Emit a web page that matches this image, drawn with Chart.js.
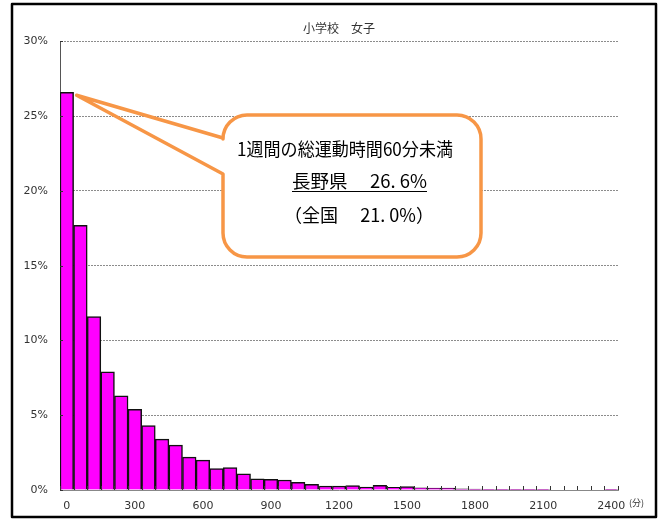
<!DOCTYPE html>
<html>
<head>
<meta charset="utf-8">
<script src="https://cdn.jsdelivr.net/npm/chart.js@4/dist/chart.umd.min.js"></script>
<style>
  html, body { margin: 0; padding: 0; background: #fff; }
  #chart { display: block; }
</style>
</head>
<body>
<canvas id="chart" width="664" height="521"></canvas>
<script>
"use strict";

// ? DATA
// ! ========================== ! \\
const chartTitle = "小学校　女子";
const categories = [
  "0", "60", "120", "180", "240", "300", "360", "420", "480", "540",
  "600", "660", "720", "780", "840", "900", "960", "1020", "1080", "1140",
  "1200", "1260", "1320", "1380", "1440", "1500", "1560", "1620", "1680", "1740",
  "1800", "1860", "1920", "1980", "2040", "2100", "2160", "2220", "2280", "2340",
  "2400",
];
// percent of pupils in each 60-minute band
const shares = [
  26.6, 17.7, 11.6, 7.9, 6.3, 5.4, 4.3, 3.4, 3.0, 2.2,
  2.0, 1.43, 1.5, 1.08, 0.74, 0.71, 0.67, 0.52, 0.38, 0.27,
  0.27, 0.29, 0.2, 0.31, 0.18, 0.23, 0.14, 0.13, 0.13, 0.07,
  0.06, 0.05, 0.05, 0.04, 0.04, 0.04, 0, 0, 0, 0,
  0.05,
];
const shownTicks = ["0", "300", "600", "900", "1200", "1500", "1800", "2100", "2400"];
const yTicks = [0, 5, 10, 15, 20, 25, 30];
const calloutLines = ["1週間の総運動時間60分未満", "長野県　 26. 6%", "（全国　 21. 0%）"];
const unitLabel = "(分)";

const tickFont = { family: "'DejaVu Sans', sans-serif", size: 11 };
const cjkFont = "'Noto Sans CJK JP', sans-serif";

// ? HELPERS
// ! ========================== ! \\
function fitText(ctx, text, left, right, y) {
  const w = ctx.measureText(text).width;
  const sx = (right - left) / w;
  ctx.save();
  ctx.translate(left, y);
  ctx.scale(sx, 1);
  ctx.fillText(text, 0, 0);
  ctx.restore();
}

// ? EXTRAS (frame, tick marks, callout)
// ! ========================== ! \\
const extras = {
  id: "extras",
  beforeDraw: (chart) => {
    const { ctx, width, height } = chart;
    ctx.save();
    ctx.fillStyle = "#ffffff";
    ctx.fillRect(0, 0, width, height);
    ctx.restore();
  },
  afterDraw: (chart) => {
    const { ctx, chartArea } = chart;
    const xs = chart.scales.x;
    const ys = chart.scales.y;
    ctx.save();

    // x tick marks between bars (pointing up)
    ctx.strokeStyle = "#333";
    ctx.lineWidth = 1;
    const half = (xs.getPixelForValue(1) - xs.getPixelForValue(0)) / 2;
    ctx.beginPath();
    for (let i = 0; i <= categories.length; i++) {
      const x = Math.round(xs.getPixelForValue(i) - half) + 0.5;
      ctx.moveTo(x, chartArea.bottom);
      ctx.lineTo(x, chartArea.bottom - 4);
    }
    // y tick marks (pointing right)
    yTicks.forEach((v) => {
      const y = Math.round(ys.getPixelForValue(v)) + 0.5;
      ctx.moveTo(chartArea.left, y);
      ctx.lineTo(chartArea.left + 3, y);
    });
    ctx.stroke();

    // unit label
    ctx.fillStyle = "#333";
    ctx.font = `9px ${cjkFont}`;
    ctx.textBaseline = "middle";
    ctx.textAlign = "left";
    ctx.fillText(unitLabel, 629, 503);

    // callout
    const bar = chart.getDatasetMeta(0).data[0];
    const tipX = bar.x + bar.width / 2 + 3;
    const tipY = bar.y + 3;
    const bx = 223, by = 115, bw = 258, bh = 142, r = 24;
    const baseTop = 138, baseBottom = 174;

    ctx.fillStyle = "#ffffff";
    ctx.beginPath();
    ctx.roundRect(bx, by, bw, bh, r);
    ctx.fill();

    ctx.strokeStyle = "#F79646";
    ctx.lineWidth = 3.5;
    ctx.lineJoin = "round";
    ctx.beginPath();
    ctx.moveTo(bx, baseBottom);
    ctx.lineTo(bx, by + bh - r);
    ctx.arcTo(bx, by + bh, bx + r, by + bh, r);
    ctx.lineTo(bx + bw - r, by + bh);
    ctx.arcTo(bx + bw, by + bh, bx + bw, by + bh - r, r);
    ctx.lineTo(bx + bw, by + r);
    ctx.arcTo(bx + bw, by, bx + bw - r, by, r);
    ctx.lineTo(bx + r, by);
    ctx.arcTo(bx, by, bx, by + r, r);
    ctx.lineTo(bx, baseTop);
    ctx.lineTo(tipX, tipY);
    ctx.closePath();
    ctx.stroke();

    ctx.fillStyle = "#000";
    ctx.textBaseline = "middle";
    ctx.textAlign = "left";
    ctx.font = `18px ${cjkFont}`;
    fitText(ctx, calloutLines[0], 237, 453, 149);
    fitText(ctx, calloutLines[1], 292, 427, 181);
    fitText(ctx, calloutLines[2], 284, 434, 215);
    ctx.strokeStyle = "#000";
    ctx.lineWidth = 1;
    ctx.beginPath();
    ctx.moveTo(292, 191.5);
    ctx.lineTo(427, 191.5);
    ctx.stroke();

    // outer frame
    ctx.strokeStyle = "#000";
    ctx.lineWidth = 2.5;
    ctx.strokeRect(12, 4, 644, 513);
    ctx.restore();
  },
};

// ? CHART
// ! ========================== ! \\
const config = {
  type: "bar",
  data: {
    labels: categories,
    datasets: [
      {
        data: shares,
        backgroundColor: "#FF00FF",
        borderColor: "#111111",
        borderWidth: 1.5,
        categoryPercentage: 1,
        barPercentage: 1,
      },
    ],
  },
  options: {
    responsive: false,
    animation: false,
    devicePixelRatio: 1,
    layout: { padding: { left: 0, right: 46, top: 0, bottom: 0 } },
    plugins: {
      legend: { display: false },
      tooltip: { enabled: false },
      title: {
        display: true,
        text: chartTitle,
        fullSize: false,
        color: "#333",
        font: { family: cjkFont, size: 12, weight: "normal", lineHeight: 1.2 },
        padding: { top: 21, bottom: 6 },
      },
    },
    scales: {
      x: {
        afterFit: (scale) => { scale.height = 31; },
        grid: { display: false },
        border: { display: true, color: "#888", width: 1 },
        ticks: {
          autoSkip: false,
          maxRotation: 0,
          minRotation: 0,
          padding: 2,
          color: "#333",
          font: tickFont,
          callback: (val, i) => (shownTicks.includes(categories[i]) ? categories[i] : ""),
        },
      },
      y: {
        min: 0,
        max: 30,
        afterFit: (scale) => { scale.width = 60; },
        afterBuildTicks: (scale) => { scale.ticks = yTicks.map((v) => ({ value: v })); },
        grid: { color: "#8c8c8c", lineWidth: 1, drawTicks: false },
        border: { display: true, color: "#555", width: 1, dash: [2, 1] },
        ticks: {
          padding: 12,
          color: "#333",
          font: tickFont,
          callback: (v) => `${v}%`,
        },
      },
    },
  },
  plugins: [extras],
};

const ctx = document.getElementById("chart").getContext("2d");
new Chart(ctx, config);
</script>
</body>
</html>
